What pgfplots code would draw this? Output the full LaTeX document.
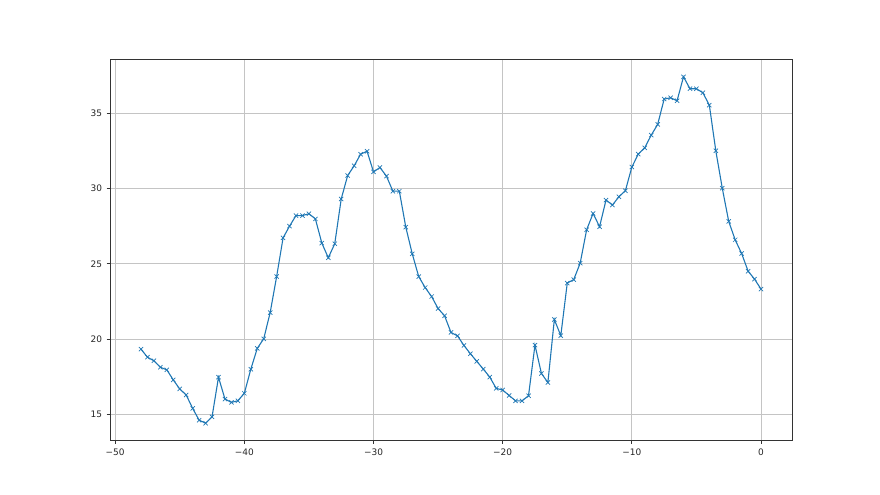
\documentclass[border=0pt]{standalone}
\usepackage{fontspec}
\setmainfont{DejaVu Sans}
\usepackage{pgfplots}
\pgfplotsset{compat=1.18}
\definecolor{mplblue}{HTML}{1F77B4}
\definecolor{mplgrid}{HTML}{C4C4C4}
\begin{document}
\begin{tikzpicture}[x=1bp,y=1bp]
\path[use as bounding box] (0,0) rectangle (880,495);
\begin{axis}[
  at={(110bp,54.5bp)}, anchor=south west,
  width=682bp, height=381bp, scale only axis,
  xmin=-50.4, xmax=2.4, ymin=13.27, ymax=38.56,
  xtick={-50,-40,-30,-20,-10,0},
  xticklabels={−50,−40,−30,−20,−10,0},
  ytick={15,20,25,30,35},
  yticklabels={15,20,25,30,35},
  grid=major,
  major grid style={color=mplgrid, line width=0.7bp},
  axis line style={color=black!80, line width=0.8bp},
  tick style={color=black!80, line width=0.8bp},
  tick align=outside, tick pos=left,
  major tick length=3.5bp,
  tick label style={font=\fontsize{9}{11}\selectfont, color=black!85},
  xticklabel style={yshift=-1bp},
  yticklabel style={xshift=-1bp},
]
\addplot[color=mplblue, line width=1.1bp, mark=x, mark size=3bp, mark options={line width=0.7bp}] coordinates {
(-48,19.33) (-47.5,18.8) (-47,18.56) (-46.5,18.13) (-46,17.96) (-45.5,17.29) (-45,16.69) (-44.5,16.29)
(-44,15.4) (-43.5,14.62) (-43,14.42) (-42.5,14.84) (-42,17.47) (-41.5,16.02) (-41,15.8) (-40.5,15.91)
(-40,16.4) (-39.5,18.0) (-39,19.38) (-38.5,20.02) (-38,21.76) (-37.5,24.15) (-37,26.72) (-36.5,27.5)
(-36,28.2) (-35.5,28.2) (-35,28.32) (-34.5,27.98) (-34,26.37) (-33.5,25.4) (-33,26.33) (-32.5,29.3)
(-32,30.86) (-31.5,31.5) (-31,32.27) (-30.5,32.47) (-30,31.1) (-29.5,31.39) (-29,30.82) (-28.5,29.82)
(-28,29.82) (-27.5,27.43) (-27,25.66) (-26.5,24.15) (-26,23.42) (-25.5,22.82) (-25,22.03) (-24.5,21.55)
(-24,20.44) (-23.5,20.22) (-23,19.58) (-22.5,19.03) (-22,18.52) (-21.5,18.01) (-21,17.48) (-20.5,16.73)
(-20,16.62) (-19.5,16.26) (-19,15.9) (-18.5,15.9) (-18,16.24) (-17.5,19.6) (-17,17.72) (-16.5,17.12)
(-16,21.3) (-15.5,20.23) (-15,23.72) (-14.5,23.95) (-14,25.04) (-13.5,27.26) (-13,28.34) (-12.5,27.46)
(-12,29.23) (-11.5,28.9) (-11,29.45) (-10.5,29.85) (-10,31.42) (-9.5,32.28) (-9,32.7) (-8.5,33.54)
(-8,34.25) (-7.5,35.93) (-7,36.02) (-6.5,35.82) (-6,37.41) (-5.5,36.62) (-5,36.62) (-4.5,36.35)
(-4,35.53) (-3.5,32.5) (-3,30.02) (-2.5,27.81) (-2,26.59) (-1.5,25.68) (-1,24.51) (-0.5,23.98)
(0,23.32)
};
\end{axis}
\end{tikzpicture}
\end{document}
